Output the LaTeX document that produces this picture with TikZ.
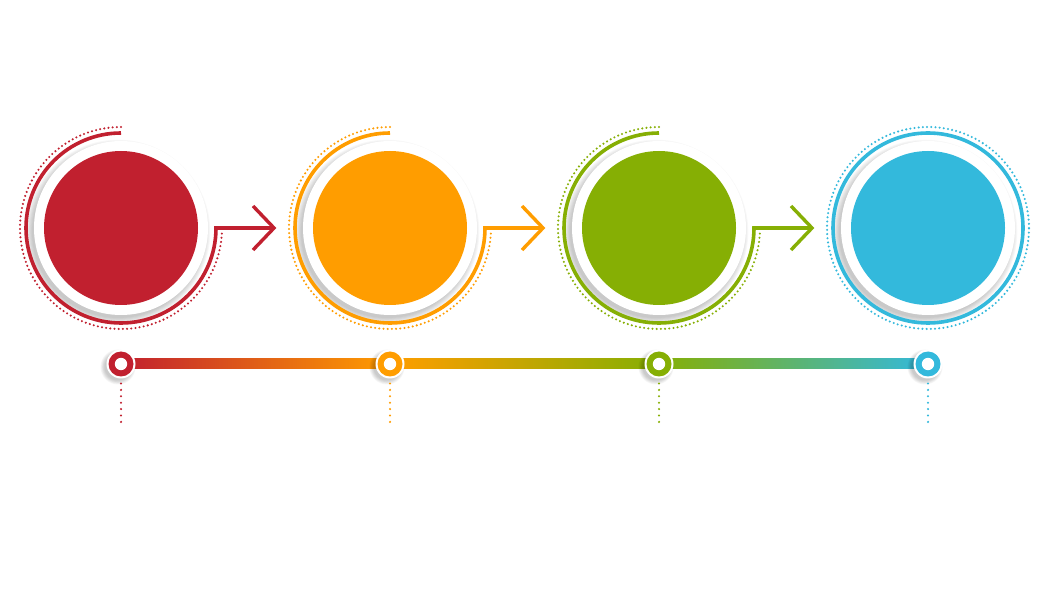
\documentclass[tikz,border=0pt]{standalone}
\usetikzlibrary{calc}
\definecolor{cred}{RGB}{193,32,47}
\definecolor{corange}{RGB}{255,157,0}
\definecolor{cgreen}{RGB}{134,175,4}
\definecolor{cblue}{RGB}{51,185,220}
\tikzset{
  disk/.style={circle, inner sep=0pt, minimum size=154pt, draw=none},
  ringline/.style={line width=3.6pt},
  dotarc/.style={line width=2.3pt, line cap=round, dash pattern=on 0pt off 4.2pt},
  vdots/.style={line width=2.3pt, line cap=round, dash pattern=on 0pt off 6.4pt},
  chev/.style={line width=3.4pt, line join=miter, line cap=butt},
  dotnode/.style={circle, inner sep=0pt, minimum size=25pt, line width=0pt},
}
\newcommand\mysoftshadow[4]{% center, radius, dx, dy
  \foreach \k in {0,...,7}{
    \fill[black, opacity=0.028] ($(#1)+(#3,#4)$) circle[radius={#2+\k*0.9}];
  }
}
\begin{document}
\begin{tikzpicture}[x=1pt,y=1pt]
\useasboundingbox (0,0) rectangle (1052,600);
\fill[white] (0,0) rectangle (1052,600);

% centers
\coordinate (p1) at (121,372);
\coordinate (p2) at (390,372);
\coordinate (p3) at (659,372);
\coordinate (p4) at (928,372);

% ---------- big circles: shadows and white disks ----------
\foreach \i in {1,2,3,4}{
  \mysoftshadow{p\i}{86}{-3}{-4}
  \fill[white] (p\i) circle[radius=87];
}

% colored disks
\node[disk, fill=cred]    (c1) at (p1) {};
\node[disk, fill=corange] (c2) at (p2) {};
\node[disk, fill=cgreen]  (c3) at (p3) {};
\node[disk, fill=cblue]   (c4) at (p4) {};

% arrow tips
\coordinate (t1) at ($(c1.center)+(153,0)$);
\coordinate (t2) at ($(c2.center)+(153,0)$);
\coordinate (t3) at ($(c3.center)+(153,0)$);

% ---------- arcs with arrows ----------
\foreach \c/\t/\col in {c1/t1/cred, c2/t2/corange, c3/t3/cgreen}{
  \draw[ringline, \col] ($(\c.center)+(0,95)$) arc[start angle=90, end angle=360, radius=95] -- (\t);
  \draw[chev, \col] ($(\t)+(-21,22)$) -- (\t) -- ($(\t)+(-21,-22)$);
  \draw[dotarc, \col] ($(\c.center)+(0,101)$) arc[start angle=90, end angle=357, radius=101];
}
% full rings for the last circle
\draw[ringline, cblue] (c4.center) circle[radius=95];
\draw[dotarc, cblue] (c4.center) circle[radius=101];

% ---------- timeline ----------
\shade[left color=cred, right color=corange] (121,231) rectangle (390,241);
\shade[left color=corange, right color=cgreen] (390,231) rectangle (659,241);
\shade[left color=cgreen, right color=cblue] (659,231) rectangle (928,241);

\foreach \i/\col in {1/cred,2/corange,3/cgreen,4/cblue}{
  \path (p\i) ++(0,-136) coordinate (q\i);
  \foreach \k in {0,...,5}{
    \fill[black, opacity=0.035] ($(q\i)+(-3,-3)$) circle[radius={13.5+\k*0.8}];
  }
  \node[dotnode, fill=white, minimum size=29pt] (d\i) at (q\i) {};
  \fill[\col] (d\i.center) circle[radius=12.5];
  \fill[white] (d\i.center) circle[radius=6.2];
  \coordinate (e\i) at ($(q\i)+(0,-64)$);
  \draw[vdots, \col] ($(d\i.south)+(0,-5)$) -- (e\i);
}
\end{tikzpicture}
\end{document}
